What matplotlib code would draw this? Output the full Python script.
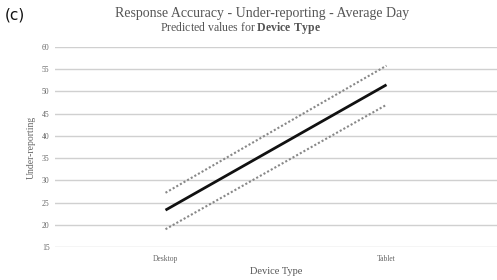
import matplotlib
matplotlib.use("Agg")
import matplotlib.pyplot as plt

categories = ["Desktop", "Tablet"]
predicted = [23.3, 51.5]
upper_ci = [27.2, 55.8]
lower_ci = [19.0, 47.0]
yticks = [15, 20, 25, 30, 35, 40, 45, 50, 55, 60]

plt.rcParams['font.family'] = ['Liberation Serif', 'DejaVu Serif']
plt.rcParams['mathtext.fontset'] = 'custom'
plt.rcParams['mathtext.rm'] = 'Liberation Serif'
plt.rcParams['mathtext.bf'] = 'Liberation Serif:bold'

fig = plt.figure(figsize=(4.97, 2.8), dpi=100)
ax = fig.add_axes([55/497, 1 - 247/280, (497 - 55)/497, 200/280])

x = list(range(len(categories)))
ax.plot(x, predicted, color='#111111', lw=2.0, solid_capstyle='butt')
ax.plot(x, upper_ci, color='#888888', lw=1.5, linestyle=(0, (1, 1)))
ax.plot(x, lower_ci, color='#888888', lw=1.5, linestyle=(0, (1, 1)))

ax.set_xlim(-0.5, 1.5)
ax.set_ylim(15, 60)
ax.set_yticks(yticks)
ax.set_xticks(x)
ax.set_xticklabels(categories)
ax.yaxis.grid(True, color='#d0d0d0', lw=1.0)
ax.set_axisbelow(True)
for s in ax.spines.values():
    s.set_visible(False)
ax.tick_params(axis='both', length=0, labelsize=5.5, colors='#666666', pad=4)
ax.tick_params(axis='x', pad=6)
ax.set_ylabel("Under-reporting", fontsize=7, color='#666666', labelpad=4)
ax.set_xlabel("Device Type", fontsize=7.5, color='#555555', labelpad=3)

fig.text(262/497, 1 - 13/280, "Response Accuracy - Under-reporting - Average Day",
         ha='center', va='center', fontsize=10, color='#555555')
fig.text(241/497, 1 - 28/280, "Predicted values for $\\mathbf{Device\\ Type}$",
         ha='center', va='center', fontsize=8.5, color='#555555')
fig.text(5/497, 1 - 15/280, "(c)", ha='left', va='center', fontsize=11,
         color='#111111', family='DejaVu Sans')

fig.savefig("out.png", dpi=100)
